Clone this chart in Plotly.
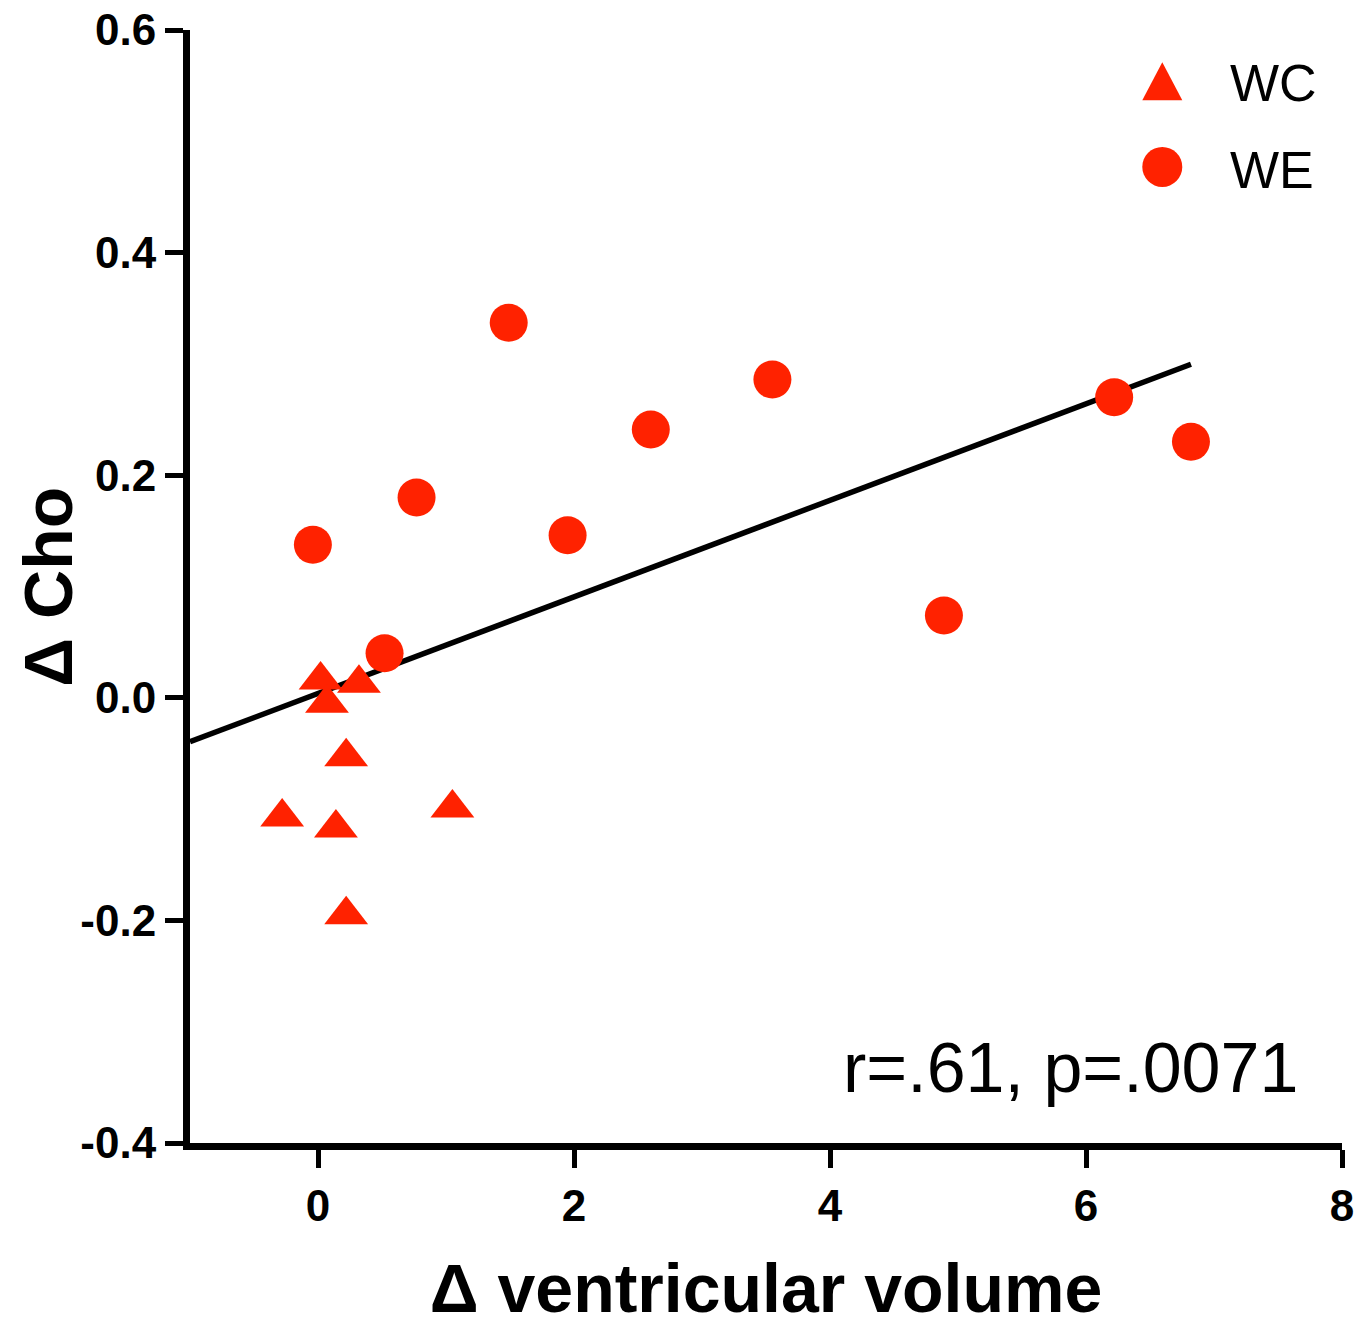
import numpy as np
import plotly.graph_objects as go

# WC group (triangles)
wc_x = [0.02, 0.07, 0.32, 0.22, -0.28, 0.14, 1.05, 0.22]
wc_y = [0.016, -0.005, 0.013, -0.053, -0.107, -0.117, -0.099, -0.195]
# WE group (circles)
we_x = [-0.04, 0.77, 1.49, 0.52, 1.95, 2.60, 3.55, 4.89, 6.22, 6.82]
we_y = [0.1375, 0.18, 0.337, 0.04, 0.146, 0.241, 0.286, 0.074, 0.27, 0.23]

x_ticks = [0, 2, 4, 6, 8]
y_ticks = [-0.4, -0.2, 0.0, 0.2, 0.4, 0.6]
y_tick_text = ["-0.4", "-0.2", "0.0", "0.2", "0.4", "0.6"]
stat_text = "r=.61, p=.0071"
x_title = "Δ ventricular volume"
y_title = "Δ Cho"

RED = "#ff2200"
FONT = "Liberation Sans, Arial, sans-serif"

all_x = np.array(wc_x + we_x)
all_y = np.array(wc_y + we_y)
slope, intercept = np.polyfit(all_x, all_y, 1)
line_x = np.array([-1.0, all_x.max()])
line_y = slope * line_x + intercept

fig = go.Figure()
fig.add_trace(go.Scatter(x=line_x, y=line_y, mode="lines",
                         line=dict(color="black", width=5.5), showlegend=False,
                         hoverinfo="skip"))
fig.add_trace(go.Scatter(x=we_x, y=we_y, mode="markers", name="WE",
                         marker=dict(symbol="circle", size=38, color=RED),
                         showlegend=False))
fig.add_trace(go.Scatter(x=wc_x, y=wc_y, mode="markers", name="WC",
                         marker=dict(symbol="triangle-up", size=38, color=RED),
                         showlegend=False))

tickfont = dict(family=FONT, size=44, color="black", weight="bold")
fig.update_xaxes(range=[-1, 8], tickvals=x_ticks, ticktext=[str(v) for v in x_ticks],
                 showline=True, linewidth=7, linecolor="black", automargin=False,
                 ticks="outside", ticklen=18, tickwidth=5, tickcolor="black",
                 showgrid=False, zeroline=False, tickfont=tickfont,
                 title=dict(text="<b>" + x_title + "</b>", standoff=40,
                            font=dict(family=FONT, size=68, color="black")))
fig.update_yaxes(range=[-0.4, 0.6], tickvals=y_ticks, ticktext=y_tick_text,
                 showline=True, linewidth=7, linecolor="black", automargin=False,
                 ticks="outside", ticklen=18, tickwidth=5, tickcolor="black",
                 showgrid=False, zeroline=False, tickfont=tickfont)

# y-axis title as rotated annotation for precise placement
fig.add_annotation(text="<b>" + y_title + "</b>", xref="paper", yref="paper",
                   x=-0.124, y=0.5, xanchor="center", yanchor="middle", textangle=-90,
                   showarrow=False, font=dict(family=FONT, size=68, color="black"))

# legend drawn as shapes + text
fig.add_shape(type="path", xref="paper", yref="paper", xsizemode="pixel", ysizemode="pixel",
              xanchor=0.844, yanchor=0.954, path="M-20,-19 L20,-19 L0,19 Z",
              fillcolor=RED, line=dict(width=0))
fig.add_shape(type="circle", xref="paper", yref="paper", xsizemode="pixel", ysizemode="pixel",
              xanchor=0.844, yanchor=0.877, x0=-20, x1=20, y0=-20, y1=20,
              fillcolor=RED, line=dict(width=0))
legfont = dict(family=FONT, size=52, color="black")
fig.add_annotation(text="WC", xref="paper", yref="paper", x=0.901, y=0.952,
                   xanchor="left", yanchor="middle", showarrow=False, font=legfont)
fig.add_annotation(text="WE", xref="paper", yref="paper", x=0.901, y=0.874,
                   xanchor="left", yanchor="middle", showarrow=False, font=legfont)
fig.add_annotation(text=stat_text, xref="paper", yref="paper", x=0.9635, y=0.067,
                   xanchor="right", yanchor="middle", showarrow=False,
                   font=dict(family=FONT, size=70, color="black"))

fig.update_layout(width=1368, height=1326, plot_bgcolor="white", paper_bgcolor="white",
                  margin=dict(l=190, r=26, t=30, b=183), showlegend=False)

fig.write_html("out.html", config={"displayModeBar": False},
               post_script="document.body.style.margin='0';")
